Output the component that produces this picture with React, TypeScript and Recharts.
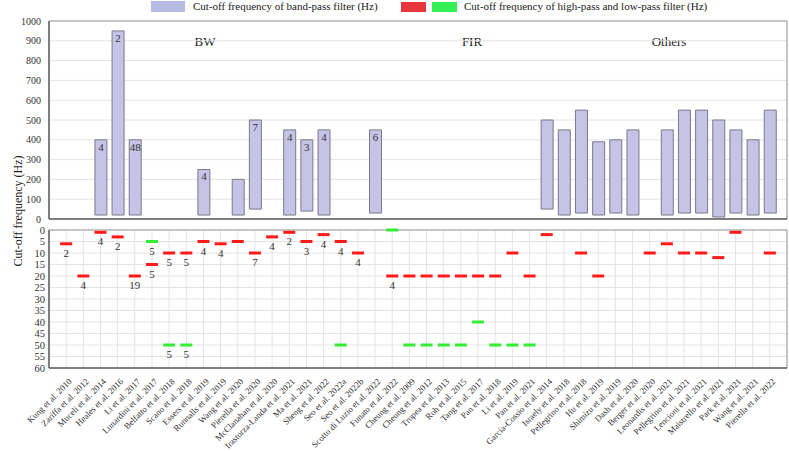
import { Bar, ComposedChart, CartesianGrid, LabelList, ReferenceArea, Scatter, XAxis, YAxis } from "recharts";

const studies = [
  "Kung et al. 2010", "Zariffa et al. 2012", "Muceli et al. 2014", "Heales et al. 2016", "Li et al. 2017",
  "Lunardini et al. 2017", "Belfatto et al. 2018", "Scano et al. 2018", "Essers et al. 2019", "Runnalls et al. 2019",
  "Wang et al. 2020", "Pierella et al. 2020", "McClanahan et al. 2020", "Irastorza-Landa et al. 2021", "Ma et al. 2021",
  "Sheng et al. 2022", "Seo et al. 2022a", "Seo et al. 2022b", "Scotto di Luzio et al. 2022", "Funato et al. 2022",
  "Cheung et al. 2009", "Cheung et al. 2012", "Tropea et al. 2013", "Roh et al. 2015", "Tang et al. 2017",
  "Pan et al. 2018", "Li et al. 2019", "Pan et al. 2021", "García-Cossio et al. 2014", "Israely et al. 2018",
  "Pellegrino et al. 2018", "Hu et al. 2019", "Shimizu et al. 2019", "Dash et al. 2020", "Berger et al. 2020",
  "Leonardis et al. 2021", "Pellegrino et al. 2021", "Lencioni et al. 2021", "Maistrello et al. 2021", "Park et al. 2021",
  "Wang et al. 2021", "Pierella et al. 2022",
];

// band-pass range (Hz)
const bandLow = [
  null, null, 20, 20, 20, null, null, null, 20, null,
  20, 50, null, 20, 40, 20, null, null, 30, null,
  null, null, null, null, null, null, null, null, 50, 20,
  30, 20, 30, 20, null, 20, 30, 30, 10, 30,
  20, 30,
];
const bandHigh = [
  null, null, 400, 950, 400, null, null, null, 250, null,
  200, 500, null, 450, 400, 450, null, null, 450, null,
  null, null, null, null, null, null, null, null, 500, 450,
  550, 390, 400, 450, null, 450, 550, 550, 500, 450,
  400, 550,
];
const bandCount = [
  null, null, "4", "2", "48", null, null, null, "4", null,
  null, "7", null, "4", "3", "4", null, null, "6", null,
];

// high-pass (red) and low-pass (green) cut-offs (Hz)
const highPass = [
  6, 20, 1, 3, 20, 15, 10, 10, 5, 6,
  5, 10, 3, 1, 5, 2, 5, 10, null, 20,
  20, 20, 20, 20, 20, 20, 10, 20, 2, null,
  10, 20, null, null, 10, 6, 10, 10, 12, 1,
  null, 10,
];
const highPassCount = [
  "2", "4", "4", "2", "19", "5", "5", "5", "4", "4",
  null, "7", "4", "2", "3", "4", "4", "4", null, "4",
];
const lowPass = [
  null, null, null, null, null, 5, 50, 50, null, null,
  null, null, null, null, null, null, 50, null, null, 0,
  50, 50, 50, 50, 40, 50, 50, 50, null, null,
  null, null, null, null, null, null, null, null, null, null,
  null, null,
];
const lowPassCount = [null, null, null, null, null, "5", "5", "5"];

const groups = [
  { name: "BW", x: 205 },
  { name: "FIR", x: 472 },
  { name: "Others", x: 669 },
];

const W = 789;
const FONT = "Liberation Serif, DejaVu Serif, Times New Roman, serif";
const xTicks = studies.map((_, i) => i + 1);
const gridColor = "#e4e4e4";

const bandData = studies
  .map((s, i) => ({ x: i + 1, name: s, range: [bandLow[i], bandHigh[i]], n: bandCount[i] ?? null }))
  .filter((d) => d.range[0] != null);

const redData = studies
  .map((s, i) => ({ x: i + 1, y: highPass[i], n: highPassCount[i] ?? null }))
  .filter((d) => d.y != null);

const greenData = studies
  .map((s, i) => ({ x: i + 1, y: lowPass[i], n: lowPassCount[i] ?? null }))
  .filter((d) => d.y != null);

function Marker(color: string) {
  return (props: any) => {
    const { cx, cy, payload } = props;
    return (
      <g>
        <rect x={cx - 6} y={cy - 1.5} width={12} height={3} fill={color} />
        {payload.n && (
          <text x={cx} y={cy + 13} textAnchor="middle" fontSize={11} fill="#333" fontFamily={FONT}>
            {payload.n}
          </text>
        )}
      </g>
    );
  };
}

function StudyTick(props: any) {
  const { x, y, payload } = props;
  return (
    <g transform={`translate(${x + 4},${y + 4})`}>
      <text textAnchor="end" fontSize={8.8} fill="#333" fontFamily={FONT} transform="rotate(-45)" dy={3}>
        {studies[payload.value - 1]}
      </text>
    </g>
  );
}

export default function App() {
  return (
    <div style={{ position: "absolute", left: 0, top: 0, width: W, height: 451, background: "#fff", fontFamily: FONT }}>
      <style>{`.recharts-surface { overflow: visible; }`}</style>
      {/* legend */}
      <div style={{ position: "absolute", left: 151, top: 1, width: 34, height: 11, background: "#b6bbe4" }} />
      <div style={{ position: "absolute", left: 193, top: 0, fontSize: 11, color: "#222", whiteSpace: "nowrap" }}>
        Cut-off frequency of band-pass filter (Hz)
      </div>
      <div style={{ position: "absolute", left: 401, top: 2, width: 25, height: 10, background: "#e8363f" }} />
      <div style={{ position: "absolute", left: 432, top: 2, width: 25, height: 10, background: "#33ee55" }} />
      <div style={{ position: "absolute", left: 464, top: 0, fontSize: 11, color: "#222", whiteSpace: "nowrap" }}>
        Cut-off frequency of high-pass and low-pass filter (Hz)
      </div>

      {groups.map((g) => (
        <div
          key={g.name}
          style={{ position: "absolute", left: g.x - 30, width: 60, top: 34, textAlign: "center", fontSize: 13, color: "#222" }}
        >
          {g.name}
        </div>
      ))}

      <div
        style={{
          position: "absolute",
          left: 18,
          top: 211,
          transform: "translate(-50%, -50%) rotate(-90deg)",
          fontSize: 12,
          color: "#222",
          whiteSpace: "nowrap",
        }}
      >
        Cut-off frequency (Hz)
      </div>

      {/* band-pass panel */}
      <div style={{ position: "absolute", left: 0, top: 0 }}>
        <ComposedChart width={W} height={220} data={bandData} margin={{ top: 21, right: 2, bottom: 0, left: 0 }}>
          <CartesianGrid stroke={gridColor} />
          <ReferenceArea x1={0} x2={43} y1={0} y2={1000} fill="none" stroke="#999" strokeWidth={1} />
          <XAxis
            dataKey="x"
            type="number"
            domain={[0, 43]}
            ticks={xTicks}
            tick={false}
            tickLine={false}
            height={1}
            axisLine={{ stroke: "#666", strokeWidth: 1.5 }}
          />
          <YAxis
            type="number"
            domain={[0, 1000]}
            ticks={[0, 100, 200, 300, 400, 500, 600, 700, 800, 900, 1000]}
            interval={0}
            width={49}
            tickLine={false}
            axisLine={{ stroke: "#666", strokeWidth: 1.5 }}
            tick={{ fontSize: 10, fill: "#333", fontFamily: FONT }}
          />
          <Bar dataKey="range" barSize={12} fill="#c5c3e6" stroke="#7a7a88" strokeWidth={1} isAnimationActive={false}>
            <LabelList dataKey="n" position="insideTop" offset={3} fontSize={11} fill="#333" fontFamily={FONT} />
          </Bar>
        </ComposedChart>
      </div>

      {/* high-/low-pass panel */}
      <div style={{ position: "absolute", left: 0, top: 220 }}>
        <ComposedChart width={W} height={231} margin={{ top: 10, right: 2, bottom: 0, left: 0 }}>
          <CartesianGrid stroke={gridColor} />
          <ReferenceArea x1={0} x2={43} y1={0} y2={60} fill="none" stroke="#999" strokeWidth={1} />
          <XAxis
            dataKey="x"
            type="number"
            domain={[0, 43]}
            ticks={xTicks}
            tick={<StudyTick />}
            tickLine={false}
            height={83}
            interval={0}
            axisLine={{ stroke: "#666", strokeWidth: 1.5 }}
          />
          <YAxis
            dataKey="y"
            type="number"
            reversed
            domain={[0, 60]}
            ticks={[0, 5, 10, 15, 20, 25, 30, 35, 40, 45, 50, 55, 60]}
            interval={0}
            width={49}
            tickLine={false}
            tickSize={3}
            tickMargin={1}
            axisLine={{ stroke: "#666", strokeWidth: 1.5 }}
            tick={{ fontSize: 10.5, fill: "#333", fontFamily: FONT }}
          />
          <Scatter data={redData} fill="#ff1a1a" shape={Marker("#ff1a1a")} isAnimationActive={false} />
          <Scatter data={greenData} fill="#33ee33" shape={Marker("#33ee33")} isAnimationActive={false} />
        </ComposedChart>
      </div>
    </div>
  );
}
